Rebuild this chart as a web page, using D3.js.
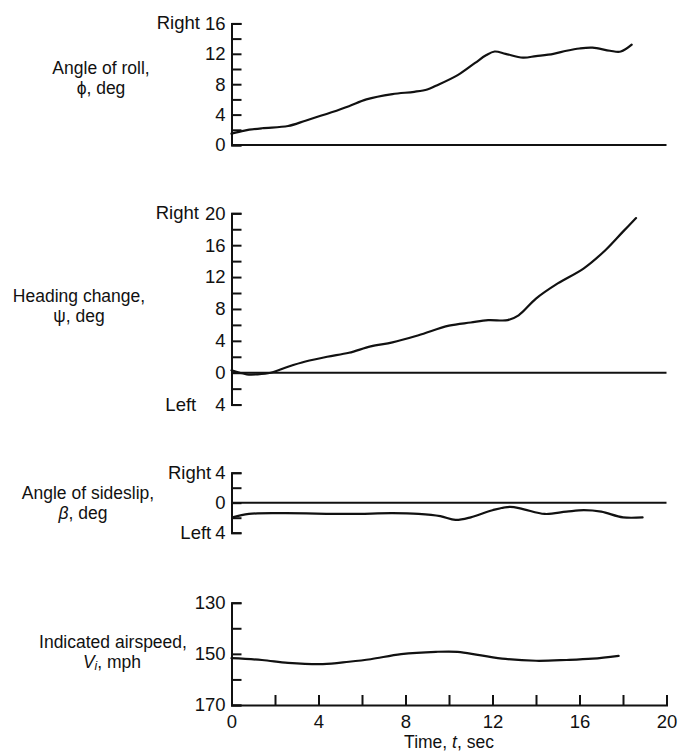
<!DOCTYPE html>
<html>
<head>
<meta charset="utf-8">
<script src="https://cdn.jsdelivr.net/npm/d3@7"></script>
<style>
  body { margin: 0; background: #fff; }
  svg { display: block; }
  text { font-family: "Liberation Sans", Arial, sans-serif; fill: #111; }
</style>
</head>
<body>
<svg id="chart" width="684" height="754"></svg>
<script>
// Time histories of a rolling turn entry

// Angle of roll, deg
const rollTime = [0, 0.6, 1.4, 2.6, 3.4, 4.6, 5.4, 6.2, 7.4, 8.4, 9.0, 9.4, 10.4, 11.2, 11.7, 12.1, 12.6, 13.4, 14.0, 14.8, 15.4, 16.0, 16.6, 17.4, 17.9, 18.4];
const rollDeg  = [1.5, 1.9, 2.2, 2.5, 3.2, 4.3, 5.1, 6.0, 6.7, 7.0, 7.3, 7.8, 9.2, 10.8, 11.8, 12.3, 12.0, 11.5, 11.7, 12.0, 12.4, 12.7, 12.8, 12.4, 12.3, 13.2];

// Heading change, deg
const headTime = [0, 0.7, 1.2, 1.8, 2.6, 3.4, 4.4, 5.4, 6.4, 7.4, 8.6, 10.0, 11.0, 11.8, 12.7, 13.2, 14.0, 15.0, 16.2, 17.2, 18.0, 18.6];
const headDeg  = [0.3, -0.2, -0.2, 0, 0.75, 1.4, 2.0, 2.5, 3.3, 3.8, 4.7, 5.9, 6.3, 6.6, 6.6, 7.2, 9.3, 11.2, 13.1, 15.4, 17.7, 19.4];

// Angle of sideslip, deg (right positive)
const slipTime = [0.05, 0.8, 2.4, 5.4, 7.4, 8.6, 9.6, 10.3, 11.0, 12.0, 12.8, 13.4, 14.4, 15.4, 16.2, 17.0, 18.0, 18.9];
const slipDeg  = [-1.95, -1.5, -1.4, -1.5, -1.4, -1.5, -1.8, -2.3, -1.95, -1.0, -0.55, -0.85, -1.5, -1.2, -1.0, -1.2, -1.95, -1.95];

// Indicated airspeed, mph
const speedTime = [0, 1.4, 2.6, 4.2, 5.4, 6.4, 7.8, 9.4, 10.4, 11.4, 12.6, 14.0, 15.4, 16.6, 17.8];
const speedMph  = [151.7, 152.4, 153.5, 154.0, 153.1, 152.1, 150.1, 149.2, 149.2, 150.5, 152.0, 152.7, 152.4, 151.9, 150.8];

// Axis ticks and labels
const timeTicks = [0, 2, 4, 6, 8, 10, 12, 14, 16, 18, 20];
const timeLabels = [0, 4, 8, 12, 16, 20];
const rollTicks = [0, 2, 4, 6, 8, 10, 12, 14, 16];
const rollLabels = [0, 4, 8, 12, 16];
const headTicks = [-4, -2, 0, 2, 4, 6, 8, 10, 12, 14, 16, 18, 20];
const headLabels = [-4, 0, 4, 8, 12, 16, 20];
const slipTicks = [-4, -2, 0, 2, 4];
const slipLabels = [-4, 0, 4];
const speedTicks = [130, 140, 150, 160, 170];
const speedLabels = [130, 150, 170];

const svg = d3.select("#chart");
const FS = 18.5;   // tick numbers
const TS = 17.5;   // quantity names
const INK = "#111";

const x = d3.scaleLinear().domain([0, 20]).range([231.5, 666.5]);

function zip(ts, vs) { return ts.map((t, i) => ({ t, v: vs[i] })); }

function drawPanel(o) {
  const y = d3.scaleLinear().domain(o.domain).range(o.range);
  const g = svg.append("g");

  // vertical axis: ticks point into the plot, labels on the left
  const axis = d3.axisLeft(y)
    .tickValues(o.ticks)
    .tickSizeInner(-10)
    .tickSizeOuter(-10)
    .tickPadding(6)
    .tickFormat(d => o.labels.includes(d) ? String(Math.abs(d)) : "");
  const ag = g.append("g").attr("transform", `translate(${x(0)},0)`).call(axis);
  ag.selectAll("path, line").attr("stroke", INK).attr("stroke-width", 2);
  ag.selectAll("text").attr("fill", INK).style("font-size", FS + "px")
    .attr("font-family", null);

  // direction words next to the end labels
  (o.words || []).forEach(w => {
    const lbl = ag.selectAll(".tick").filter(d => d === w.value).select("text");
    const len = lbl.node().getComputedTextLength();
    g.append("text")
      .attr("x", x(0) - 6 - len - w.gap)
      .attr("y", y(w.value))
      .attr("dy", "0.32em")
      .attr("text-anchor", "end")
      .style("font-size", FS + "px")
      .text(w.text);
  });

  // reference line
  if (o.zeroLine !== undefined) {
    g.append("line")
      .attr("x1", x(0)).attr("x2", x(20))
      .attr("y1", y(o.zeroLine)).attr("y2", y(o.zeroLine))
      .attr("stroke", INK).attr("stroke-width", 2);
  }

  // data curve
  const line = d3.line().x(d => x(d.t)).y(d => y(d.v)).curve(d3.curveCatmullRom.alpha(0.5));
  g.append("path")
    .datum(zip(o.time, o.values))
    .attr("d", line)
    .attr("fill", "none")
    .attr("stroke", INK)
    .attr("stroke-width", 2.2)
    .attr("stroke-linejoin", "round")
    .attr("stroke-linecap", "round");

  // quantity name at the left
  o.title.forEach(t => {
    const tx = g.append("text")
      .attr("x", t.x).attr("y", t.y)
      .attr("text-anchor", "middle")
      .style("font-size", TS + "px");
    t.parts.forEach(p => {
      const s = tx.append("tspan").text(p.s);
      if (p.italic) s.style("font-style", "italic");
      if (p.sub) s.attr("baseline-shift", "-20%").style("font-size", (TS * 0.7) + "px");
    });
  });
  return y;
}

drawPanel({
  domain: [0, 16], range: [145, 23.4],
  ticks: rollTicks, labels: rollLabels,
  words: [{ value: 16, text: "Right", gap: 5 }],
  zeroLine: 0,
  time: rollTime, values: rollDeg,
  title: [
    { x: 101, y: 74, parts: [{ s: "Angle of roll," }] },
    { x: 101, y: 94, parts: [{ s: "\u03D5, deg" }] }
  ]
});

drawPanel({
  domain: [-4, 20], range: [404.6, 213.3],
  ticks: headTicks, labels: headLabels,
  words: [{ value: 20, text: "Right", gap: 6 }, { value: -4, text: "Left", gap: 19 }],
  zeroLine: 0,
  time: headTime, values: headDeg,
  title: [
    { x: 79, y: 302, parts: [{ s: "Heading change," }] },
    { x: 79, y: 322, parts: [{ s: "\u03C8, deg" }] }
  ]
});

drawPanel({
  domain: [-4, 4], range: [532.7, 472.7],
  ticks: slipTicks, labels: slipLabels,
  words: [{ value: 4, text: "Right", gap: 4 }, { value: -4, text: "Left", gap: 4 }],
  zeroLine: 0,
  time: slipTime, values: slipDeg,
  title: [
    { x: 88, y: 499, parts: [{ s: "Angle of sideslip," }] },
    { x: 83, y: 519, parts: [{ s: "\u03B2", italic: true }, { s: ", deg" }] }
  ]
});

drawPanel({
  domain: [130, 170], range: [602.7, 705],
  ticks: speedTicks, labels: speedLabels,
  time: speedTime, values: speedMph,
  title: [
    { x: 113, y: 648, parts: [{ s: "Indicated airspeed," }] },
    { x: 112, y: 668, parts: [{ s: "V", italic: true }, { s: "i", italic: true, sub: true }, { s: ", mph" }] }
  ]
});

// time axis along the bottom panel
const xAxis = d3.axisBottom(x)
  .tickValues(timeTicks)
  .tickSizeInner(-10)
  .tickSizeOuter(-10)
  .tickPadding(10)
  .tickFormat(d => timeLabels.includes(d) ? String(d) : "");
const xg = svg.append("g").attr("transform", "translate(0,705)").call(xAxis);
xg.selectAll("path, line").attr("stroke", INK).attr("stroke-width", 2);
xg.selectAll("text").attr("fill", INK).style("font-size", FS + "px").attr("font-family", null);

const xt = svg.append("text")
  .attr("x", 449).attr("y", 748)
  .attr("text-anchor", "middle")
  .style("font-size", TS + "px");
xt.append("tspan").text("Time, ");
xt.append("tspan").text("t").style("font-style", "italic");
xt.append("tspan").text(", sec");
</script>
</body>
</html>
